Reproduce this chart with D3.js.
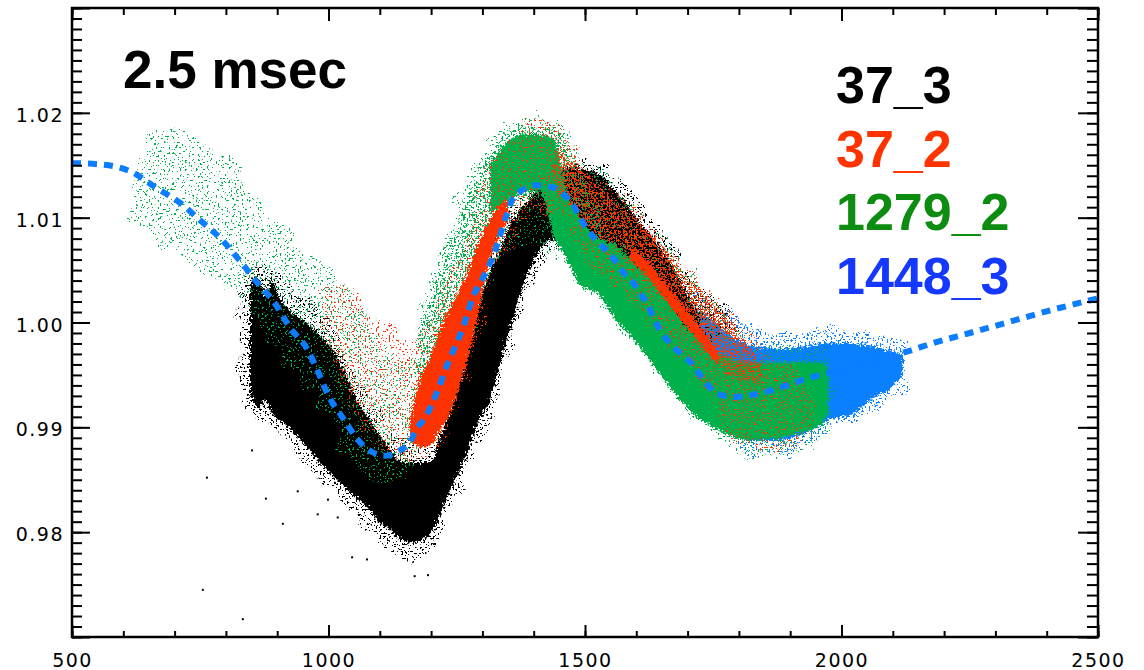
<!DOCTYPE html>
<html>
<head>
<meta charset="utf-8">
<script src="https://cdn.jsdelivr.net/npm/d3@7"></script>
<style>
  html, body { margin: 0; padding: 0; background: #fff; }
  svg { display: block; }
</style>
</head>
<body>
<svg id="chart" width="1144" height="670"></svg>
<script>
// ---- data -------------------------------------------------------------
// Point clouds are described by envelopes: each row is [x, upper, lower].
// "core" = dense body of the cloud, "mid" = medium density, "halo" = sparse scatter.

const xTickLabels = [500, 1000, 1500, 2000, 2500];
const yTickLabels = [0.98, 0.99, 1.00, 1.01, 1.02];

const seriesNames  = ["37_3", "37_2", "1279_2", "1448_3"];

// 1448_3 (blue cloud)
const blueHalo = [
  [1646, 1.0031, 1.0002], [1704, 1.0031, 0.9950], [1763, 1.0017, 0.9907],
  [1822, 0.9998, 0.9873], [1899, 0.9993, 0.9873], [1978, 0.9995, 0.9897],
  [2056, 0.9988, 0.9914], [2124, 0.9983, 0.9940]
];
const blueCore = [
  [1666, 1.0021, 0.9993], [1704, 1.0016, 0.9964], [1743, 1.0004, 0.9935],
  [1782, 0.9988, 0.9907], [1822, 0.9978, 0.9888], [1880, 0.9975, 0.9888],
  [1939, 0.9978, 0.9897], [1978, 0.9981, 0.9908], [2017, 0.9980, 0.9911],
  [2056, 0.9978, 0.9926], [2094, 0.9973, 0.9937], [2120, 0.9969, 0.9950]
];

// 37_3 (black cloud)
const blackHalo = [
  [827, 1.0021, 0.9945], [847, 1.0055, 0.9907], [886, 1.0050, 0.9902],
  [944, 1.0026, 0.9868], [1003, 1.0002, 0.9840], [1061, 0.9940, 0.9811],
  [1120, 0.9897, 0.9783], [1159, 0.9888, 0.9773], [1198, 0.9888, 0.9778],
  [1237, 0.9931, 0.9821], [1276, 0.9997, 0.9864], [1315, 1.0064, 0.9907],
  [1354, 1.0107, 0.9978], [1393, 1.0131, 1.0036], [1432, 1.0143, 1.0064],
  [1471, 1.0157, 1.0064], [1529, 1.0150, 1.0050], [1588, 1.0128, 1.0026],
  [1646, 1.0090, 1.0002], [1704, 1.0045, 0.9978], [1743, 1.0026, 0.9983],
  [1792, 1.0012, 0.9993]
];
const blackCore = [
  [847, 1.0031, 0.9935], [857, 1.0045, 0.9921], [866, 1.0040, 0.9918],
  [876, 1.0024, 0.9926], [890, 1.0039, 0.9914], [905, 1.0023, 0.9907],
  [925, 1.0012, 0.9899], [944, 1.0004, 0.9889], [964, 0.9997, 0.9878],
  [983, 0.9988, 0.9867], [1003, 0.9978, 0.9857], [1022, 0.9962, 0.9847],
  [1042, 0.9940, 0.9838], [1061, 0.9921, 0.9830], [1081, 0.9907, 0.9821],
  [1100, 0.9892, 0.9809], [1120, 0.9878, 0.9802], [1139, 0.9868, 0.9794],
  [1159, 0.9867, 0.9790], [1178, 0.9867, 0.9792], [1198, 0.9867, 0.9797],
  [1217, 0.9890, 0.9816], [1237, 0.9916, 0.9840], [1256, 0.9945, 0.9859],
  [1276, 0.9983, 0.9883], [1295, 1.0021, 0.9908], [1315, 1.0050, 0.9926],
  [1334, 1.0069, 0.9959], [1354, 1.0093, 0.9995], [1373, 1.0107, 1.0026],
  [1393, 1.0119, 1.0052], [1412, 1.0128, 1.0069], [1432, 1.0136, 1.0079],
  [1451, 1.0143, 1.0079], [1471, 1.0148, 1.0074], [1490, 1.0147, 1.0069],
  [1529, 1.0141, 1.0058], [1568, 1.0120, 1.0036], [1607, 1.0095, 1.0016],
  [1646, 1.0072, 0.9997], [1685, 1.0040, 0.9983], [1704, 1.0021, 0.9983],
  [1724, 1.0010, 0.9988]
];
// isolated 37_3 points away from the main body
const blackStray = [
  [763, 0.9852], [755, 0.9745], [833, 0.9717], [851, 0.9878], [878, 0.9832],
  [911, 0.9808], [940, 0.9839], [979, 0.9817], [999, 0.9831], [1018, 0.9814],
  [1046, 0.9776], [1075, 0.9774], [1168, 0.9758], [1194, 0.9759]
];

// 1279_2 (green cloud)
const greenHalo = [
  [613, 1.0126, 1.0102], [652, 1.0184, 1.0079], [711, 1.0185, 1.0064],
  [750, 1.0174, 1.0052], [808, 1.0150, 1.0031], [847, 1.0131, 1.0007],
  [886, 1.0102, 0.9978], [944, 1.0074, 0.9945], [1003, 1.0050, 0.9907],
  [1042, 1.0026, 0.9868], [1081, 1.0002, 0.9849], [1120, 0.9973, 0.9840],
  [1139, 0.9964, 0.9849], [1159, 0.9969, 0.9867], [1178, 1.0002, 0.9883],
  [1198, 1.0040, 0.9902], [1217, 1.0069, 0.9926], [1237, 1.0099, 0.9945],
  [1256, 1.0126, 0.9964], [1276, 1.0147, 0.9983], [1295, 1.0164, 1.0021],
  [1334, 1.0184, 1.0059], [1373, 1.0191, 1.0069], [1412, 1.0195, 1.0069],
  [1451, 1.0190, 1.0058], [1490, 1.0164, 1.0031], [1529, 1.0141, 1.0016],
  [1607, 1.0102, 0.9973], [1685, 1.0059, 0.9921], [1763, 1.0017, 0.9888],
  [1841, 0.9978, 0.9873], [1919, 0.9974, 0.9878], [1978, 0.9969, 0.9895]
];
const greenMid = [
  [1178, 0.9993, 0.9940], [1217, 1.0050, 0.9964], [1256, 1.0102, 1.0021],
  [1295, 1.0150, 1.0079], [1334, 1.0174, 1.0102], [1373, 1.0185, 1.0117],
  [1412, 1.0188, 1.0117], [1451, 1.0184, 1.0102], [1490, 1.0145, 1.0079],
  [1529, 1.0107, 1.0059]
];
const greenCore = [
  [1315, 1.0150, 1.0105], [1334, 1.0164, 1.0110], [1354, 1.0174, 1.0117],
  [1373, 1.0179, 1.0124], [1412, 1.0179, 1.0126], [1441, 1.0174, 1.0079],
  [1461, 1.0131, 1.0064], [1490, 1.0100, 1.0036], [1529, 1.0080, 1.0026],
  [1555, 1.0076, 1.0005], [1588, 1.0061, 0.9988], [1621, 1.0047, 0.9967],
  [1656, 1.0026, 0.9945], [1685, 1.0005, 0.9926], [1724, 0.9983, 0.9908],
  [1750, 0.9973, 0.9900], [1782, 0.9966, 0.9892], [1822, 0.9962, 0.9888],
  [1880, 0.9962, 0.9890], [1919, 0.9962, 0.9895], [1958, 0.9962, 0.9902],
  [1974, 0.9959, 0.9914]
];

// 37_2 (red cloud)
const redHalo = [
  [983, 1.0036, 1.0002], [1022, 1.0036, 0.9945], [1061, 1.0026, 0.9907],
  [1100, 1.0002, 0.9878], [1139, 0.9983, 0.9870], [1178, 0.9997, 0.9870],
  [1217, 1.0026, 0.9883], [1256, 1.0064, 0.9926], [1295, 1.0117, 0.9993],
  [1334, 1.0164, 1.0064], [1373, 1.0188, 1.0083], [1412, 1.0193, 1.0102],
  [1451, 1.0190, 1.0102], [1490, 1.0155, 1.0069], [1568, 1.0126, 1.0031],
  [1646, 1.0083, 0.9993], [1724, 1.0040, 0.9940], [1802, 1.0002, 0.9883],
  [1861, 0.9969, 0.9878], [1919, 0.9945, 0.9881], [1939, 0.9926, 0.9895]
];
const redMixed = [
  [1441, 1.0164, 1.0126], [1490, 1.0150, 1.0100], [1529, 1.0131, 1.0080],
  [1555, 1.0117, 1.0076], [1621, 1.0090, 1.0045], [1685, 1.0050, 1.0004],
  [1750, 1.0017, 0.9964], [1802, 0.9988, 0.9945], [1841, 0.9959, 0.9940]
];
const redCoreRise = [
  [1159, 0.9907, 0.9888], [1178, 0.9945, 0.9881], [1198, 0.9967, 0.9883],
  [1217, 0.9993, 0.9897], [1237, 1.0014, 0.9914], [1256, 1.0031, 0.9940],
  [1276, 1.0055, 0.9973], [1295, 1.0079, 1.0016], [1315, 1.0098, 1.0061],
  [1334, 1.0112, 1.0083], [1350, 1.0117, 1.0096]
];
const redCoreFall = [
  [1588, 1.0072, 1.0060], [1621, 1.0058, 1.0044], [1656, 1.0038, 1.0023],
  [1685, 1.0020, 1.0004], [1724, 0.9996, 0.9980], [1760, 0.9972, 0.9960]
];

// 1448_3 model curve (dashed)
const curveX = [500, 550, 610, 666, 711, 753, 792, 827, 861, 896, 925, 958, 977,
  999, 1028, 1061, 1110, 1139, 1159, 1172, 1188, 1211, 1231, 1252, 1262, 1272,
  1281, 1295, 1309, 1320, 1330, 1348, 1358, 1377, 1402, 1436, 1461, 1477, 1490,
  1516, 1543, 1559, 1574, 1594, 1607, 1621, 1633, 1646, 1666, 1685, 1708, 1724,
  1740, 1757, 1792, 1827, 1861, 1893, 1923, 1958, 2000, 2060, 2139, 2176, 2250,
  2330, 2410, 2500];
const curveY = [1.0152, 1.0151, 1.0145, 1.0128, 1.0114, 1.0096, 1.0079, 1.0059,
  1.0038, 1.0018, 0.9995, 0.9975, 0.9956, 0.9931, 0.9909, 0.9886, 0.9873, 0.9878,
  0.9886, 0.9899, 0.9909, 0.9933, 0.9959, 0.9983, 0.9995, 1.0010, 1.0024, 1.0037,
  1.0050, 1.0062, 1.0076, 1.0104, 1.0117, 1.0126, 1.0131, 1.0129, 1.0121, 1.0112,
  1.0100, 1.0082, 1.0068, 1.0059, 1.0048, 1.0038, 1.0028, 1.0018, 1.0005, 0.9993,
  0.9980, 0.9971, 0.9961, 0.9950, 0.9940, 0.9932, 0.9929, 0.9931, 0.9935, 0.9940,
  0.9945, 0.9950, 0.9955, 0.9963, 0.9974, 0.9980, 0.9990, 1.0001, 1.0012, 1.0023];

// ---- layout ---------------------------------------------------------------
const W = 1144, H = 670;
const plot = { left: 72, right: 1098, top: 8, bottom: 637 };

const x = d3.scaleLinear().domain([500, 2500]).range([plot.left, plot.right]);
const y = d3.scaleLinear().domain([0.97, 1.03]).range([plot.bottom, plot.top]);

const svg = d3.select("#chart");
const defs = svg.append("defs");

defs.append("clipPath").attr("id", "plotClip")
  .append("rect")
  .attr("x", plot.left).attr("y", plot.top)
  .attr("width", plot.right - plot.left).attr("height", plot.bottom - plot.top);

function newFilter(id) {
  return defs.append("filter").attr("id", id)
    .attr("filterUnits", "userSpaceOnUse")
    .attr("x", 0).attr("y", 0).attr("width", W).attr("height", H)
    .attr("color-interpolation-filters", "sRGB");
}

// scatter texture: the envelope outline is warped, then kept only where a
// fine noise field exceeds a threshold (lower threshold = denser dots)
function scatterFilter(id, threshold, seed, warp) {
  const f = newFilter(id);
  f.append("feTurbulence").attr("type", "fractalNoise")
    .attr("baseFrequency", 0.05).attr("numOctaves", 2).attr("seed", seed + 50)
    .attr("result", "warp");
  f.append("feDisplacementMap").attr("in", "SourceGraphic").attr("in2", "warp")
    .attr("scale", warp).attr("xChannelSelector", "R").attr("yChannelSelector", "G")
    .attr("result", "shape");
  f.append("feTurbulence").attr("type", "fractalNoise")
    .attr("baseFrequency", 0.55).attr("numOctaves", 1).attr("seed", seed)
    .attr("result", "noise");
  f.append("feColorMatrix").attr("in", "noise").attr("type", "matrix")
    .attr("values", `0 0 0 0 0  0 0 0 0 0  0 0 0 0 0  60 0 0 0 ${-60 * threshold}`)
    .attr("result", "mask");
  f.append("feComposite").attr("in", "shape").attr("in2", "mask")
    .attr("operator", "in");
}
// dense body: ragged edges via displacement
function roughFilter(id, seed) {
  const f = newFilter(id);
  f.append("feTurbulence").attr("type", "fractalNoise")
    .attr("baseFrequency", 0.45).attr("numOctaves", 2).attr("seed", seed)
    .attr("result", "noise");
  f.append("feDisplacementMap").attr("in", "SourceGraphic").attr("in2", "noise")
    .attr("scale", 10).attr("xChannelSelector", "R").attr("yChannelSelector", "G");
}

const colors = {
  black: "#000000",
  red: "#ff3300",
  green: "#00b04a",
  blue: "#0a80ff",
  curve: "#0d7dff"
};
const legendColors = ["#000000", "#ff3300", "#0c8c10", "#1438ff"];

// draw order: blue, black, green, red
const layers = [
  { data: blueHalo,    color: colors.blue,  kind: "scatter", t: 0.60,  warp: 20, seed: 3 },
  { data: blueCore,    color: colors.blue,  kind: "core", seed: 4 },
  { data: blackHalo,   color: colors.black, kind: "scatter", t: 0.605, warp: 24, seed: 5 },
  { data: blackCore,   color: colors.black, kind: "core", seed: 6 },
  { data: greenHalo,   color: colors.green, kind: "scatter", t: 0.63,  warp: 30, seed: 7 },
  { data: greenMid,    color: colors.green, kind: "scatter", t: 0.565, warp: 16, seed: 13 },
  { data: greenCore,   color: colors.green, kind: "core", seed: 8 },
  { data: redHalo,     color: colors.red,   kind: "scatter", t: 0.63,  warp: 24, seed: 9 },
  { data: redMixed,    color: colors.red,   kind: "scatter", t: 0.535, warp: 10, seed: 10 },
  { data: redCoreRise, color: colors.red,   kind: "core", seed: 11 },
  { data: redCoreFall, color: colors.red,   kind: "core", seed: 12 }
];

const area = d3.area()
  .x(d => x(d[0]))
  .y0(d => y(d[2]))
  .y1(d => y(d[1]))
  .curve(d3.curveMonotoneX);

const cloud = svg.append("g").attr("clip-path", "url(#plotClip)");

layers.forEach((L, i) => {
  const fid = "f" + i;
  if (L.kind === "scatter") scatterFilter(fid, L.t, L.seed, L.warp);
  else roughFilter(fid, L.seed);
  cloud.append("g").attr("filter", `url(#${fid})`)
    .append("path")
    .datum(L.data)
    .attr("d", area)
    .attr("fill", L.color);
});

// isolated points
cloud.append("g").selectAll("rect")
  .data(blackStray)
  .join("rect")
  .attr("x", d => x(d[0]) - 1)
  .attr("y", d => y(d[1]) - 1)
  .attr("width", 2).attr("height", 2)
  .attr("fill", colors.black);

// dashed model curve
const curvePts = curveX.map((v, i) => [v, curveY[i]]);
cloud.append("path")
  .datum(curvePts)
  .attr("d", d3.line().x(d => x(d[0])).y(d => y(d[1])).curve(d3.curveMonotoneX))
  .attr("fill", "none")
  .attr("stroke", colors.curve)
  .attr("stroke-width", 6)
  .attr("stroke-dasharray", "9,7");

// ---- axes -----------------------------------------------------------------
const xMinor = d3.range(500, 2501, 100);
const xMajor = d3.range(500, 2501, 500);
const yMinor = d3.range(970, 1031, 1).map(v => v / 1000);
const yMajor = d3.range(97, 104, 1).map(v => v / 100);

function styleTicks(g) {
  g.select(".domain").remove();
  g.selectAll(".tick line").attr("stroke", "#000").attr("stroke-width", 2);
  g.selectAll(".tick text").remove();
}

const axes = svg.append("g");
axes.append("g").attr("transform", `translate(0,${plot.bottom})`)
  .call(d3.axisBottom(x).tickValues(xMinor).tickSize(-6)).call(styleTicks);
axes.append("g").attr("transform", `translate(0,${plot.bottom})`)
  .call(d3.axisBottom(x).tickValues(xMajor).tickSize(-12)).call(styleTicks);
axes.append("g").attr("transform", `translate(0,${plot.top})`)
  .call(d3.axisTop(x).tickValues(xMinor).tickSize(-7)).call(styleTicks);
axes.append("g").attr("transform", `translate(0,${plot.top})`)
  .call(d3.axisTop(x).tickValues(xMajor).tickSize(-13)).call(styleTicks);
axes.append("g").attr("transform", `translate(${plot.left},0)`)
  .call(d3.axisLeft(y).tickValues(yMinor).tickSize(-10)).call(styleTicks);
axes.append("g").attr("transform", `translate(${plot.left},0)`)
  .call(d3.axisLeft(y).tickValues(yMajor).tickSize(-18)).call(styleTicks);
axes.append("g").attr("transform", `translate(${plot.right},0)`)
  .call(d3.axisRight(y).tickValues(yMinor).tickSize(-11)).call(styleTicks);
axes.append("g").attr("transform", `translate(${plot.right},0)`)
  .call(d3.axisRight(y).tickValues(yMajor).tickSize(-20)).call(styleTicks);

// frame
svg.append("rect")
  .attr("x", plot.left).attr("y", plot.top)
  .attr("width", plot.right - plot.left).attr("height", plot.bottom - plot.top)
  .attr("fill", "none").attr("stroke", "#000").attr("stroke-width", 2.5);

// tick labels
const labelFont = "'DejaVu Sans', sans-serif";
const xLab = svg.append("g").attr("transform", `translate(0,${plot.bottom})`)
  .call(d3.axisBottom(x).tickValues(xTickLabels).tickSize(0).tickFormat(d3.format("d")));
xLab.select(".domain").remove();
xLab.selectAll(".tick text")
  .attr("y", 30).attr("dy", 0)
  .attr("font-family", labelFont).attr("font-size", 19)
  .attr("letter-spacing", "1.5px").attr("fill", "#000");

const yLab = svg.append("g").attr("transform", `translate(${plot.left},0)`)
  .call(d3.axisLeft(y).tickValues(yTickLabels).tickSize(0).tickFormat(d3.format(".2f")));
yLab.select(".domain").remove();
yLab.selectAll(".tick text")
  .attr("x", -8).attr("dy", "0.45em")
  .attr("font-family", labelFont).attr("font-size", 19)
  .attr("letter-spacing", "1.5px").attr("fill", "#000");

// title and legend
const bigFont = "'Liberation Sans', Arial, sans-serif";
svg.append("text")
  .attr("x", 123).attr("y", 88)
  .attr("font-family", bigFont).attr("font-weight", "bold").attr("font-size", 53)
  .attr("fill", "#000")
  .text("2.5 msec");

svg.append("g").selectAll("text")
  .data(seriesNames)
  .join("text")
  .attr("x", 836)
  .attr("y", (d, i) => 103 + i * 63.5)
  .attr("font-family", bigFont).attr("font-weight", "bold").attr("font-size", 52)
  .attr("fill", (d, i) => legendColors[i])
  .text(d => d);
</script>
</body>
</html>
